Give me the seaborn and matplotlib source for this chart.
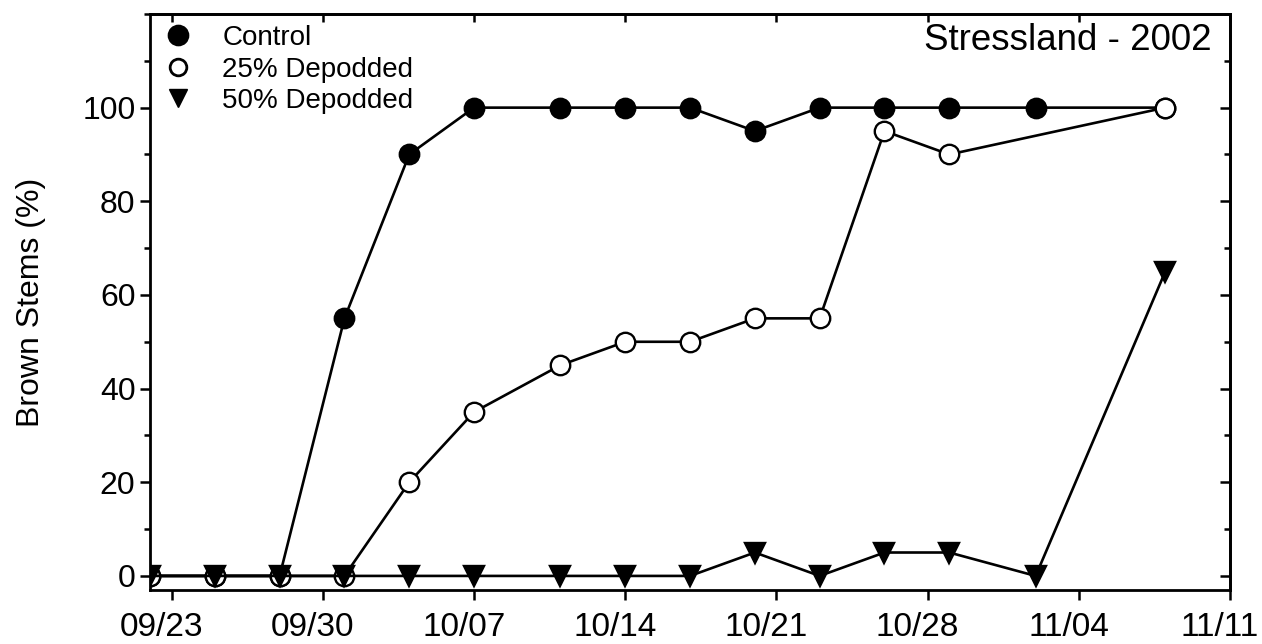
import datetime
import numpy as np
import pandas as pd
import matplotlib
matplotlib.use("Agg")
import matplotlib.pyplot as plt
import matplotlib.dates as mdates
import matplotlib.transforms as mtransforms
from matplotlib.lines import Line2D
from matplotlib.ticker import MultipleLocator
import seaborn as sns

# Data
dates = ["2002-09-22", "2002-09-25", "2002-09-28", "2002-10-01", "2002-10-04",
         "2002-10-07", "2002-10-11", "2002-10-14", "2002-10-17", "2002-10-20",
         "2002-10-23", "2002-10-26", "2002-10-29", "2002-11-02", "2002-11-08"]
control = [0, 0, 0, 55, 90, 100, 100, 100, 100, 95, 100, 100, 100, 100, 100]
depod25 = [0, 0, 0, 0, 20, 35, 45, 50, 50, 55, 55, 95, 90, None, 100]
depod50 = [0, 0, 0, 0, 0, 0, 0, 0, 0, 5, 0, 5, 5, 0, 65]
labels = ["Control", "25% Depodded", "50% Depodded"]

sns.set_style("ticks")
plt.rcParams["font.family"] = ["Liberation Sans", "DejaVu Sans"]
for key in ["text.color", "axes.labelcolor", "xtick.color", "ytick.color", "axes.edgecolor"]:
    plt.rcParams[key] = "black"

df = pd.DataFrame({
    "date": pd.to_datetime(dates),
    labels[0]: control,
    labels[1]: depod25,
    labels[2]: depod50,
})

fig = plt.figure(figsize=(12.62, 6.44), dpi=100)
ax = fig.add_axes([0.1189, 0.0839, 0.8558, 0.8944])

styles = {
    labels[0]: dict(marker="o", markerfacecolor="black", markersize=14),
    labels[1]: dict(marker="o", markerfacecolor="white", markersize=14),
    labels[2]: dict(marker="v", markerfacecolor="black", markersize=15),
}

for name in labels:
    sub = df[["date", name]].dropna()
    sns.lineplot(data=sub, x="date", y=name, ax=ax, color="black", linewidth=1.9,
                 markeredgecolor="black", markeredgewidth=1.7,
                 estimator=None, legend=False, **styles[name])

# axes limits and ticks
ax.set_xlim(datetime.datetime(2002, 9, 22), datetime.datetime(2002, 11, 11))
ax.set_ylim(-3, 120)
ax.xaxis.set_major_locator(mdates.WeekdayLocator(byweekday=mdates.MO))
ax.xaxis.set_major_formatter(mdates.DateFormatter("%m/%d"))
ax.set_yticks([0, 20, 40, 60, 80, 100])
ax.yaxis.set_minor_locator(MultipleLocator(10))
ax.set_xlabel("")
ax.set_ylabel("Brown Stems (%)", fontsize=23, labelpad=26)

ax.tick_params(axis="both", which="major", width=1.8, length=7,
               direction="out", color="black")
ax.tick_params(axis="y", labelsize=23)
ax.tick_params(axis="x", labelsize=24, pad=9)
ax.tick_params(axis="y", which="minor", width=1.8, length=4, direction="out")

# SigmaPlot-style: x labels sit a little left of their ticks
shift = mtransforms.ScaledTranslation(-10 / 100, 0, fig.dpi_scale_trans)
for lbl in ax.get_xticklabels():
    lbl.set_transform(lbl.get_transform() + shift)

for sp in ax.spines.values():
    sp.set_visible(True)
    sp.set_linewidth(2)
    sp.set_color("black")

# inward ticks on top and right
top = ax.secondary_xaxis("top")
top.xaxis.set_major_locator(mdates.WeekdayLocator(byweekday=mdates.MO))
top.tick_params(direction="in", length=6, width=1.8, labeltop=False)
top.spines["top"].set_linewidth(2)

right = ax.secondary_yaxis("right")
right.set_yticks([0, 20, 40, 60, 80, 100])
right.yaxis.set_minor_locator(MultipleLocator(10))
right.tick_params(which="major", direction="in", length=7, width=1.8, labelright=False)
right.tick_params(which="minor", direction="in", length=4, width=1.8)
right.spines["right"].set_linewidth(2)

# legend
handles = [
    Line2D([], [], linestyle="none", marker="o", markersize=14,
           markerfacecolor="black", markeredgecolor="black", markeredgewidth=1.6),
    Line2D([], [], linestyle="none", marker="o", markersize=12,
           markerfacecolor="white", markeredgecolor="black", markeredgewidth=2),
    Line2D([], [], linestyle="none", marker="v", markersize=13,
           markerfacecolor="black", markeredgecolor="black"),
]
ax.legend(handles, labels, loc="upper left", frameon=False, fontsize=20,
          handlelength=1.2, handletextpad=1.0, labelspacing=0.2,
          borderaxespad=0.0, bbox_to_anchor=(0.0, 1.0))

ax.text(0.983, 0.985, "Stressland - 2002", transform=ax.transAxes,
        ha="right", va="top", fontsize=26.5)

fig.savefig("out.png", dpi=100)
